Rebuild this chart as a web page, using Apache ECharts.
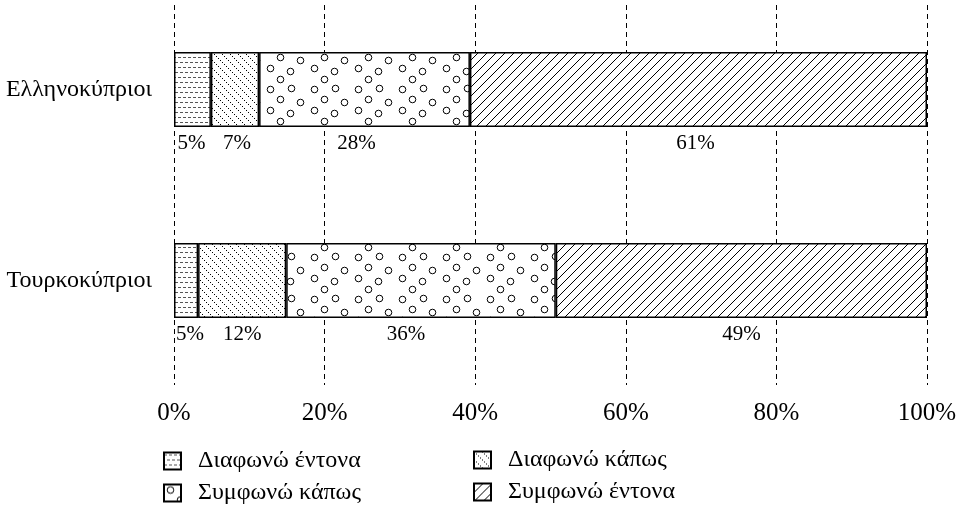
<!DOCTYPE html>
<html>
<head>
<meta charset="utf-8">
<script src="https://cdn.jsdelivr.net/npm/echarts@6/dist/echarts.min.js"></script>
<style>
html,body{margin:0;padding:0;background:#fff;}
#chart{width:973px;height:520px;}
</style>
</head>
<body>
<div id="chart"></div>
<script>
// ---- data ----
var categories = ['Ελληνοκύπριοι', 'Τουρκοκύπριοι'];
var seriesNames = ['Διαφωνώ έντονα', 'Διαφωνώ κάπως', 'Συμφωνώ κάπως', 'Συμφωνώ έντονα'];
var disagreeStrong = [4.9, 3.2];
var disagreeSome   = [6.4, 11.7];
var agreeSome      = [28.0, 35.8];
var agreeStrong    = [60.7, 49.3];
var labelDisagreeStrong = ['5%', '5%'];
var labelDisagreeSome   = ['7%', '12%'];
var labelAgreeSome      = ['28%', '36%'];
var labelAgreeStrong    = ['61%', '49%'];
var xTicks = [0, 20, 40, 60, 80, 100];

var FONT = '"Liberation Serif", "Times New Roman", serif';

// ---- patterns ----
function tile(w, h, draw) {
  var c = document.createElement('canvas');
  c.width = w; c.height = h;
  var g = c.getContext('2d');
  g.fillStyle = '#fff';
  g.fillRect(0, 0, w, h);
  draw(g);
  return c;
}
var patDash = tile(5, 10, function (g) {
  g.fillStyle = '#555';
  g.fillRect(0, 2, 3, 1);
  g.fillRect(3, 7, 2, 1);
  g.fillRect(0, 7, 1, 1);
});
var patDots = tile(8, 8, function (g) {
  g.fillStyle = '#000';
  g.fillRect(0, 0, 1, 1);
  g.fillRect(2, 2, 1, 1);
  g.fillRect(4, 4, 1, 1);
  g.fillRect(6, 6, 1, 1);
});
var patCircles = tile(44, 42, function (g) {
  g.strokeStyle = '#000';
  g.lineWidth = 1;
  var pts = [[6,5],[27,4],[16,15],[36,18],[6,26],[26,29],[16,37]];
  pts.forEach(function (p) {
    g.beginPath();
    g.arc(p[0] + 0.5, p[1] + 0.5, 3.3, 0, Math.PI * 2);
    g.stroke();
  });
});
var patSlash = tile(9, 9, function (g) {
  g.strokeStyle = '#000';
  g.lineWidth = 1;
  g.beginPath();
  g.moveTo(-1, 10); g.lineTo(10, -1);
  g.moveTo(-1, 1); g.lineTo(1, -1);
  g.moveTo(8, 10); g.lineTo(10, 8);
  g.stroke();
});
var patterns = [patDash, patDots, patCircles, patSlash];

var values = [disagreeStrong, disagreeSome, agreeSome, agreeStrong];
var labelTexts = [labelDisagreeStrong, labelDisagreeSome, labelAgreeSome, labelAgreeStrong];
// label horizontal nudges (style only)
var labelNudge = [[-1, 4], [2, 0], [-8, -15], [-3, 0]];

var series = values.map(function (arr, si) {
  return {
    name: seriesNames[si],
    type: 'bar',
    stack: 'total',
    xAxisIndex: 0,
    yAxisIndex: 0,
    barWidth: 75,
    clip: false,
    itemStyle: {
      color: { image: patterns[si], repeat: 'repeat' },
      borderColor: '#000',
      borderWidth: 1.5
    },
    label: {
      show: true,
      position: 'bottom',
      distance: 6,
      color: '#000',
      fontFamily: FONT,
      fontSize: 21,
      formatter: function (p) { return labelTexts[si][p.dataIndex]; }
    },
    data: arr.map(function (v, i) {
      return { value: v, label: { offset: [labelNudge[si][i], 0] } };
    })
  };
});

var xMin = xTicks[0], xMax = xTicks[xTicks.length - 1], xStep = xTicks[1] - xTicks[0];

var chart = echarts.init(document.getElementById('chart'), null, { renderer: 'canvas' });
chart.setOption({
  animation: false,
  backgroundColor: '#fff',
  grid: [
    // bars: category centres sit on the grid edges
    { left: 174, right: 46, top: 89.5, bottom: 239.5, containLabel: false },
    // frame for the dashed grid lines and tick labels
    { left: 174, right: 46, top: 5, bottom: 135, containLabel: false }
  ],
  xAxis: [
    {
      gridIndex: 0, type: 'value', min: xMin, max: xMax, interval: xStep,
      show: false
    },
    {
      gridIndex: 1, type: 'value', min: xMin, max: xMax, interval: xStep,
      axisLine: { show: false },
      axisTick: { show: false },
      splitLine: { show: true, lineStyle: { color: '#000', type: [5, 4], width: 1 } },
      axisLabel: {
        formatter: '{value}%',
        color: '#000',
        fontFamily: FONT,
        fontSize: 25,
        margin: 16
      }
    }
  ],
  yAxis: [
    {
      gridIndex: 0,
      type: 'category',
      inverse: true,
      boundaryGap: false,
      data: categories,
      axisLine: { show: false },
      axisTick: { show: false },
      splitLine: { show: false },
      axisLabel: { color: '#000', fontFamily: FONT, fontSize: 24, margin: 22 }
    },
    {
      gridIndex: 1, type: 'value', min: 0, max: 1, show: false,
      splitLine: { show: false }
    }
  ],
  legend: [
    {
      data: [seriesNames[0], seriesNames[2]],
      orient: 'vertical',
      left: 163, top: 449, padding: 0,
      icon: 'rect',
      itemWidth: 17, itemHeight: 17, itemGap: 8,
      textStyle: { color: '#000', fontFamily: FONT, fontSize: 24, padding: [0, 0, 0, 12] },
      selectedMode: false
    },
    {
      data: [seriesNames[1], seriesNames[3]],
      orient: 'vertical',
      left: 473, top: 448, padding: 0,
      icon: 'rect',
      itemWidth: 17, itemHeight: 17, itemGap: 8,
      textStyle: { color: '#000', fontFamily: FONT, fontSize: 24, padding: [0, 0, 0, 12] },
      selectedMode: false
    }
  ],
  series: series
});
</script>
</body>
</html>
